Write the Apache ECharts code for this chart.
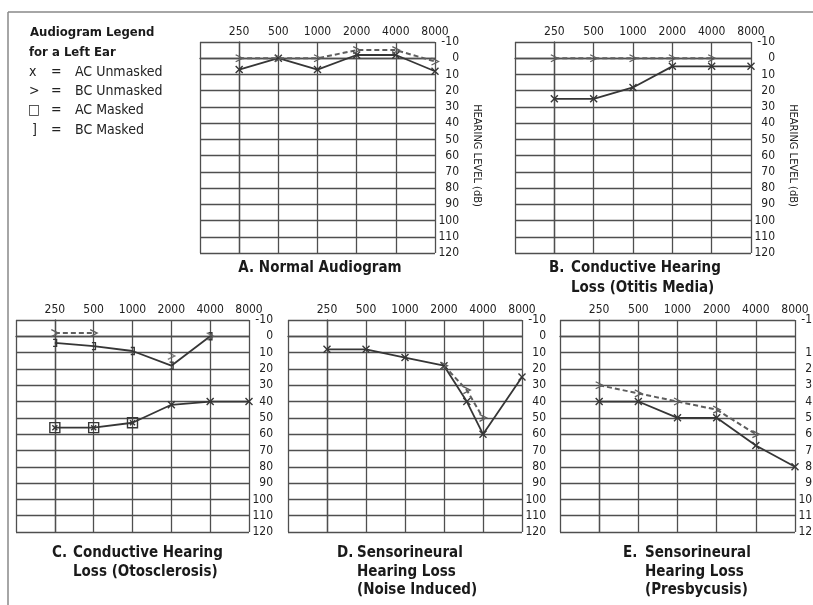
<!DOCTYPE html>
<html><head><meta charset="utf-8">
<script src="https://cdn.jsdelivr.net/npm/echarts@6/dist/echarts.min.js"></script>
<style>html,body{margin:0;padding:0;background:#fff}#c{width:813px;height:605px}</style>
</head><body><div id="c"></div>
<script>
const FONT = "'Liberation Sans Narrow','DejaVu Sans Condensed',Roboto,sans-serif";

// ---- data ----
const freqLabels = ['250', '500', '1000', '2000', '4000', '8000'];
const octFreqs = [250, 500, 1000, 2000, 4000, 8000];

// A. Normal audiogram
const aAC = [7, 0, 7, -2, -2, 8];
const aBC = [0, 0, 0, -5, -5, 2];
// B. Conductive (otitis media)
const bAC = [25, 25, 18, 5, 5, 5];
const bBC = [0, 0, 0, 0, 0, null];
// C. Conductive (otosclerosis)
const cBCMasked = [4, 6, 9, 18, 0, null];
const cBCLine = [-2, -2, null, null, null, null];
const cBCMarks = [null, null, null, 12, 0, null];
const cAC = [56, 56, 53, 42, 40, 40];
const cACMasked = [true, true, true, false, false, false];
// D. Sensorineural (noise induced)
const dACFreqs = [250, 500, 1000, 2000, 3000, 4000, 8000];
const dAC = [8, 8, 13, 18, 40, 60, 25];
const dBCFreqs = [2000, 3000, 4000];
const dBC = [18, 33, 50];
// E. Sensorineural (presbycusis)
const eAC = [40, 40, 50, 50, 67, 80];
const eBC = [30, 35, 40, 45, 60, null];

// ---- styling ----
const GRIDC = '#4f4f4f';
const LINEC = '#363636';
const DASHC = '#5e5e5e';
const SYM_X = 'path://M0,0L10,10M10,0L0,10';
const SYM_GT = 'path://M0,0L10,5L0,10';
const SYM_BR = 'path://M0,0L5,0L5,10L0,10';
const SYM_SQ = 'path://M0,0L10,0L10,10L0,10ZM2.5,2.5L7.5,7.5M7.5,2.5L2.5,7.5';

const grids = [
  {left: 200, top: 42, width: 235, height: 211},
  {left: 515, top: 42, width: 236, height: 211},
  {left: 16, top: 320, width: 233, height: 212},
  {left: 288, top: 320, width: 234, height: 212},
  {left: 560, top: 320, width: 235, height: 212}
].map(g => Object.assign(g, {outerBoundsMode: 'none', containLabel: false}));

function pts(freqs, vals) {
  const out = [];
  freqs.forEach((f, k) => { if (vals[k] != null) out.push([Math.log2(f / 250), vals[k]]); });
  return out;
}
function mkX(i) {
  return {
    type: 'value', gridIndex: i, position: 'top', min: -1, max: 5, interval: 1,
    axisLine: {show: true, lineStyle: {color: GRIDC, width: 1.3}},
    axisTick: {show: false},
    splitLine: {show: true, lineStyle: {color: GRIDC, width: 1.3}},
    axisLabel: {margin: 4, fontSize: 12, color: '#222', fontFamily: FONT,
      formatter: v => v >= 0 ? freqLabels[Math.round(v)] : ''}
  };
}
function mkY(i, named) {
  return {
    type: 'value', gridIndex: i, position: 'right', inverse: true,
    min: -10, max: 120, interval: 10,
    axisLine: {show: true, lineStyle: {color: GRIDC, width: 1.3}},
    axisTick: {show: false},
    splitLine: {show: true, lineStyle: {color: GRIDC, width: 1.3}},
    axisLabel: {align: 'right', margin: 24, fontSize: 12, color: '#222', fontFamily: FONT,
      padding: [4, 0, 0, 0]},
    name: named ? 'HEARING LEVEL (dB)' : '',
    nameLocation: 'middle', nameGap: 36, nameRotate: -90,
    nameTextStyle: {fontSize: 11, color: '#222', fontFamily: FONT, padding: [0, 0, 0, 16]}
  };
}
function solid(i, data, sym) {
  return {type: 'line', xAxisIndex: i, yAxisIndex: i, data: data,
    symbol: sym, symbolSize: 7, symbolKeepAspect: true,
    lineStyle: {color: LINEC, width: 1.8},
    itemStyle: {color: 'rgba(0,0,0,0)', borderColor: LINEC, borderWidth: 1.4}, z: 3};
}
function dashed(i, data, sym) {
  return {type: 'line', xAxisIndex: i, yAxisIndex: i, data: data,
    symbol: sym, symbolSize: 7, symbolKeepAspect: true,
    lineStyle: {color: DASHC, width: 2, type: [5, 3]},
    itemStyle: {color: 'rgba(0,0,0,0)', borderColor: DASHC, borderWidth: 1.3}, z: 3};
}

const cACData = pts(octFreqs, cAC).map((p, k) => ({
  value: p, symbol: cACMasked[k] ? SYM_SQ : SYM_X, symbolSize: cACMasked[k] ? 10 : 7
}));

const series = [
  solid(0, pts(octFreqs, aAC), SYM_X),
  dashed(0, pts(octFreqs, aBC), SYM_GT),
  solid(1, pts(octFreqs, bAC), SYM_X),
  dashed(1, pts(octFreqs, bBC), SYM_GT),
  solid(2, pts(octFreqs, cBCMasked), SYM_BR),
  dashed(2, pts(octFreqs, cBCLine), SYM_GT),
  {type: 'scatter', xAxisIndex: 2, yAxisIndex: 2, data: pts(octFreqs, cBCMarks),
    symbol: SYM_GT, symbolSize: 7, symbolKeepAspect: true,
    itemStyle: {color: 'rgba(0,0,0,0)', borderColor: DASHC, borderWidth: 1.3}, z: 3},
  solid(2, cACData, SYM_X),
  solid(3, pts(dACFreqs, dAC), SYM_X),
  dashed(3, pts(dBCFreqs, dBC), SYM_GT),
  solid(4, pts(octFreqs, eAC), SYM_X),
  dashed(4, pts(octFreqs, eBC), SYM_GT)
];

function txt(x, y, s, opt) {
  return Object.assign({type: 'text', x: x, y: y, silent: true,
    style: Object.assign({text: s, fill: '#222', font: '14px ' + FONT, verticalAlign: 'middle', align: 'left'}, opt || {})});
}
const B = {font: 'bold 15px ' + FONT, fill: '#1a1a1a'};
const LB = {font: 'bold 13px ' + FONT, fill: '#1a1a1a'};
const graphic = [
  {type: 'line', shape: {x1: 8, y1: 12, x2: 813, y2: 12}, style: {stroke: '#888', lineWidth: 1.5}, silent: true},
  {type: 'line', shape: {x1: 8, y1: 12, x2: 8, y2: 605}, style: {stroke: '#888', lineWidth: 1.5}, silent: true},
  txt(30, 33, 'Audiogram Legend', LB),
  txt(29, 53, 'for a Left Ear', LB),
  txt(29, 72, 'x'), txt(51, 72, '='), txt(75, 72, 'AC Unmasked'),
  txt(29, 91, '>'), txt(51, 91, '='), txt(75, 91, 'BC Unmasked'),
  txt(28, 110, '\u25A1'), txt(51, 110, '='), txt(75, 110, 'AC Masked'),
  txt(32, 130, ']'), txt(51, 130, '='), txt(75, 130, 'BC Masked'),
  txt(320, 268, 'A. Normal Audiogram', Object.assign({align: 'center'}, B)),
  txt(549, 268, 'B.', B), txt(571, 268, 'Conductive Hearing', B), txt(571, 288, 'Loss (Otitis Media)', B),
  txt(52, 553, 'C.', B), txt(73, 553, 'Conductive Hearing', B), txt(73, 572, 'Loss (Otosclerosis)', B),
  txt(337, 553, 'D.', B), txt(357, 553, 'Sensorineural', B), txt(357, 572, 'Hearing Loss', B), txt(357, 590, '(Noise Induced)', B),
  txt(623, 553, 'E.', B), txt(645, 553, 'Sensorineural', B), txt(645, 572, 'Hearing Loss', B), txt(645, 590, '(Presbycusis)', B)
];

const chart = echarts.init(document.getElementById('c'), null, {renderer: 'canvas'});
chart.setOption({
  animation: false,
  backgroundColor: '#fff',
  grid: grids,
  xAxis: grids.map((g, i) => mkX(i)),
  yAxis: grids.map((g, i) => mkY(i, i < 2)),
  series: series,
  graphic: graphic
});
</script>
</body></html>
